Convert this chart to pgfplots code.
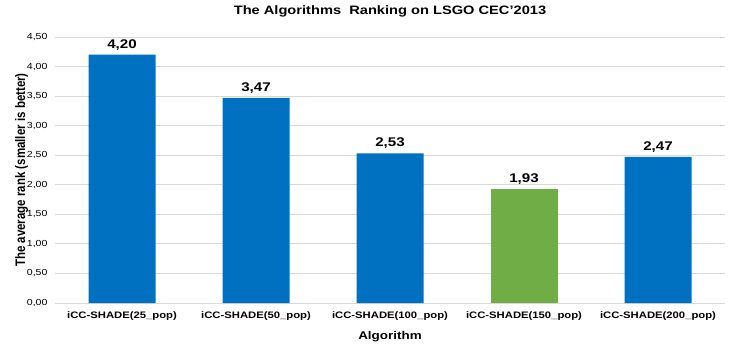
\documentclass[border=0pt]{standalone}
\usepackage{pgfplots}
\pgfplotsset{compat=1.18}
\usepackage{fontspec}
\setmainfont{Liberation Sans}[FakeStretch=1.2]
\newfontfamily\plainfont{Liberation Sans}
\definecolor{barblue}{RGB}{0,112,192}
\definecolor{bargreen}{RGB}{112,173,71}
\definecolor{gridgray}{RGB}{217,217,217}
\begin{document}
\begin{tikzpicture}
\begin{axis}[
  scale only axis,
  width=670pt, height=266pt,
  ymin=0, ymax=4.5,
  ytick={0,0.5,...,4.5},
  xmin=-0.5, xmax=4.5,
  xtick={0,1,2,3,4},
  xticklabels={iCC-SHADE(25\_pop),iCC-SHADE(50\_pop),iCC-SHADE(100\_pop),iCC-SHADE(150\_pop),iCC-SHADE(200\_pop)},
  x tick label style={font=\bfseries\fontsize{9.4}{11}\selectfont, yshift=-5pt},
  y tick label style={font=\fontsize{8.8}{10}\selectfont, xshift=-4pt},
  /pgf/number format/assume math mode=true,
  yticklabel={\pgfmathprintnumber[fixed,fixed zerofill,precision=2,use comma]{\tick}},
  ymajorgrids,
  grid style={gridgray, line width=0.8pt},
  axis line style={draw=none},
  axis x line*=bottom,
  x axis line style={draw=gridgray, line width=0.8pt},
  axis y line*=none,
  major tick length=0pt,
  tick style={draw=none},
  ylabel={\scalebox{1}[1.2]{\plainfont The average rank (smaller is better)}},
  xlabel={Algorithm},
  ylabel style={font=\bfseries\fontsize{11.5}{13}\selectfont, at={(axis description cs:-0.05,0.5)}, anchor=center},
  xlabel style={font=\bfseries\fontsize{11.2}{13}\selectfont, at={(axis description cs:0.5,-0.1278)}, anchor=center},
  title={The Algorithms\ \ Ranking on LSGO CEC'2013},
  title style={font=\bfseries\fontsize{12.2}{14}\selectfont, at={(axis description cs:0.5,1)}, anchor=center, yshift=20pt},
  ybar, bar width=67pt,
  nodes near coords={\pgfmathprintnumber[fixed,fixed zerofill,precision=2,use comma]{\pgfplotspointmeta}},
  nodes near coords style={font=\bfseries\fontsize{12.6}{15}\selectfont, /pgf/number format/assume math mode=true, yshift=1pt},
  clip=false,
]
\addplot[fill=barblue, draw=none, bar shift=0pt] coordinates {(0,4.20) (1,3.47) (2,2.53) (4,2.47)};
\addplot[fill=bargreen, draw=none, bar shift=0pt] coordinates {(3,1.93)};
\end{axis}
\pgfresetboundingbox
\path ([shift={(-55pt,-51pt)}]current axis.south west) rectangle ([shift={(12pt,37pt)}]current axis.north east);
\end{tikzpicture}
\end{document}
